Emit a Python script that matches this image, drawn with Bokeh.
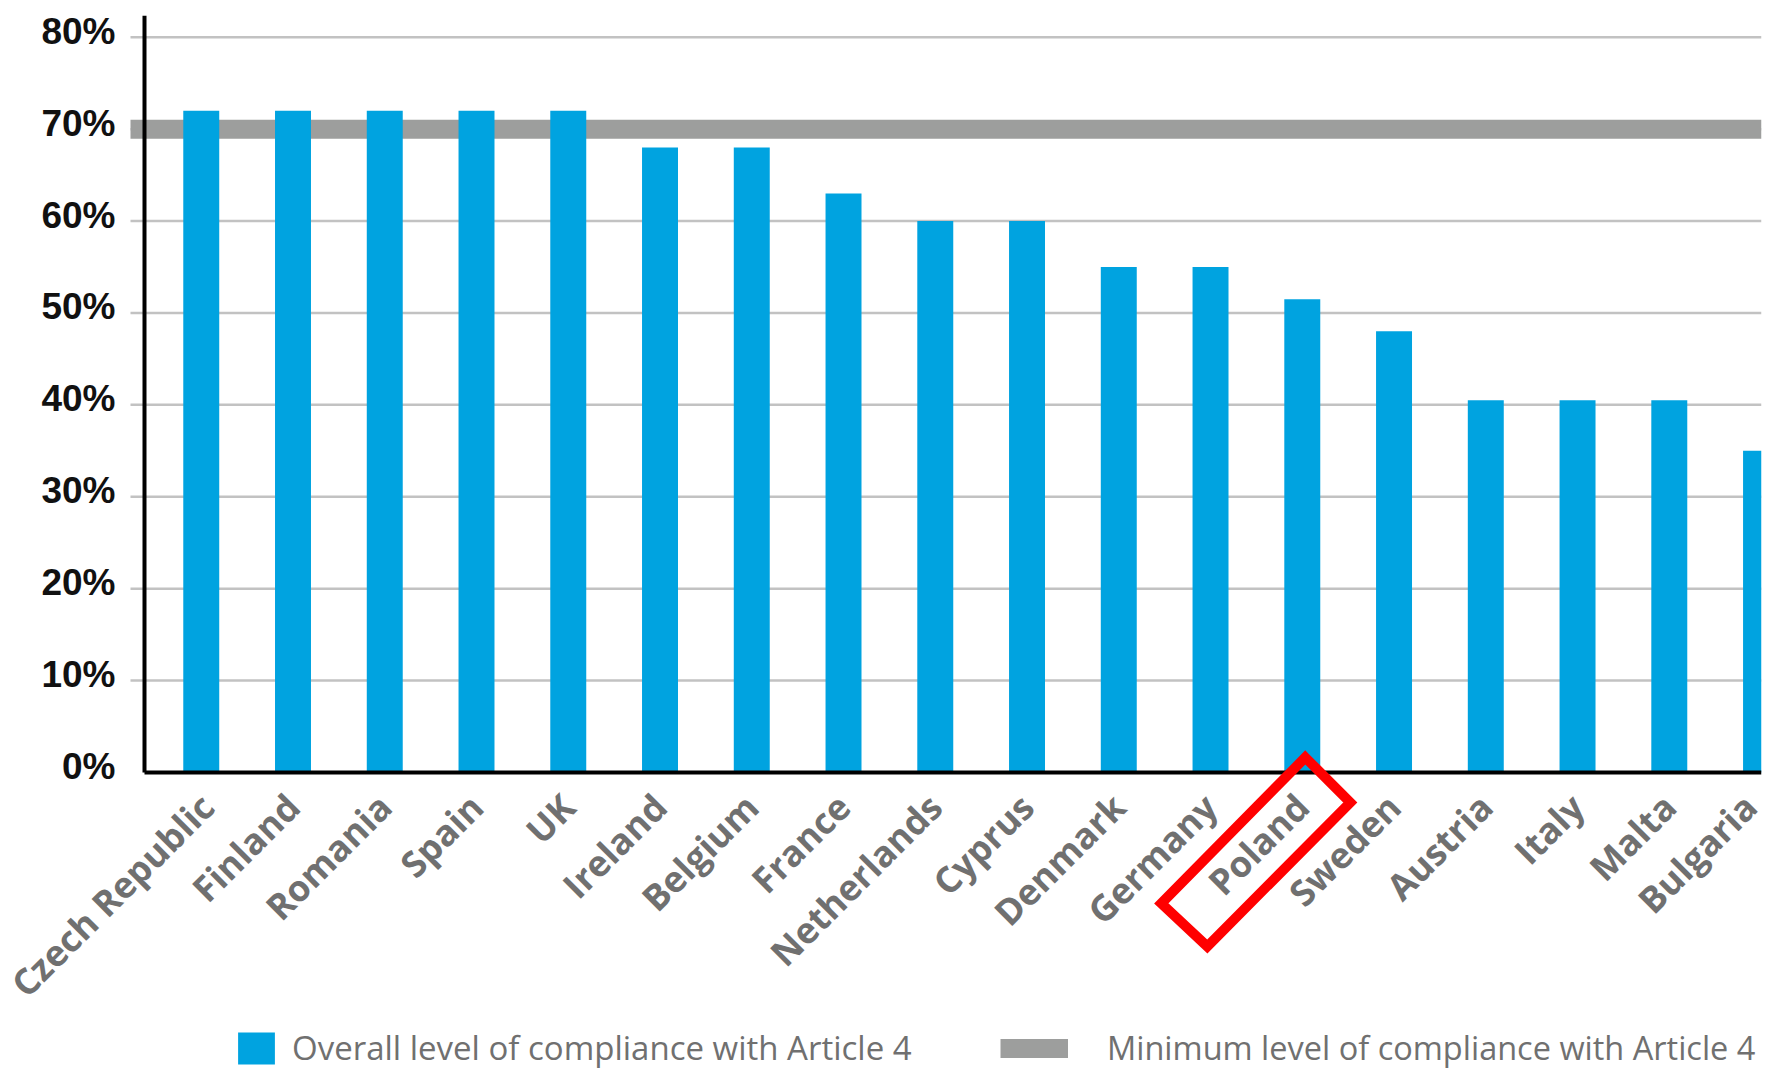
import math

from bokeh.embed import file_html
from bokeh.models import (FixedTicker, Legend, LegendItem, LinearAxis,
                          PolyAnnotation, PrintfTickFormatter, Range1d)
from bokeh.plotting import figure
from bokeh.resources import INLINE

# --- data -------------------------------------------------------------
countries = ["Czech Republic", "Finland", "Romania", "Spain", "UK", "Ireland",
             "Belgium", "France", "Netherlands", "Cyprus", "Denmark", "Germany",
             "Poland", "Sweden", "Austria", "Italy", "Malta", "Bulgaria"]
compliance = [72, 72, 72, 72, 72, 68, 68, 63, 60, 60, 55, 55, 51.5, 48,
              40.5, 40.5, 40.5, 35]
minimum_level = 70
y_ticks = [0, 10, 20, 30, 40, 50, 60, 70, 80]
highlight = "Poland"

overall_label = "Overall level of compliance with Article 4"
minimum_label = "Minimum level of compliance with Article 4"

# --- geometry ----------------------------------------------------------
# The frame covers the whole canvas; both axes are pinned to fixed
# locations so that labels, legend and highlight all live inside it.
FRAME_W, FRAME_H = 1761, 1058
x_range = Range1d(-2.188, 17.005)
y_range = Range1d(-32.76, 82.37)

px_x = FRAME_W / (x_range.end - x_range.start)
px_y = FRAME_H / (y_range.end - y_range.start)

axis_x = x_range.start + 144 / px_x   # vertical axis line
grid_x0 = x_range.start + 130 / px_x  # grid lines start a little left of it

BLUE = "#00a3e0"
GREY = "#9d9e9d"

p = figure(frame_width=FRAME_W, frame_height=FRAME_H,
           x_range=x_range, y_range=y_range,
           y_axis_location=None,
           min_border_left=0, min_border_right=6,
           min_border_top=15, min_border_bottom=0,
           output_backend="svg", toolbar_location=None,
           outline_line_color=None, background_fill_color="white",
           border_fill_color="white")

xs = list(range(len(countries)))

# horizontal grid lines
p.xgrid.visible = False
p.ygrid.visible = False
grid_levels = y_ticks[1:]
p.segment(x0=[grid_x0] * len(grid_levels), y0=grid_levels,
          x1=[x_range.end] * len(grid_levels), y1=grid_levels,
          line_color="#c2c2c2", line_width=2.5)

# minimum compliance level band
r_min = p.line(x=[grid_x0, x_range.end], y=[minimum_level, minimum_level],
               line_color=GREY, line_width=19, line_cap="butt")

# compliance bars
r_bars = p.vbar(x=xs, top=compliance, width=0.392, bottom=0,
                fill_color=BLUE, line_color=None)

# axis lines
p.segment(x0=[axis_x], y0=[0], x1=[axis_x], y1=[y_range.end],
          line_color="black", line_width=4)
p.segment(x0=[axis_x], y0=[0], x1=[x_range.end], y1=[0],
          line_color="black", line_width=4)

# percentage axis (labels sit a touch above their grid lines)
label_shift = 6 / px_y
p.extra_y_ranges = {"labels": Range1d(y_range.start - label_shift,
                                      y_range.end - label_shift)}
yaxis = LinearAxis(y_range_name="labels",
                   fixed_location=axis_x,
                   ticker=FixedTicker(ticks=y_ticks),
                   formatter=PrintfTickFormatter(format="%d%%"),
                   axis_line_color=None,
                   major_tick_line_color=None,
                   minor_tick_line_color=None,
                   major_label_standoff=23,
                   major_label_text_font="Liberation Sans",
                   major_label_text_font_style="bold",
                   major_label_text_font_size="37px",
                   major_label_text_color="#111111")
p.add_layout(yaxis, "left")

# category axis drawn along the zero line
xaxis = p.xaxis[0]
xaxis.fixed_location = 0
xaxis.ticker = FixedTicker(ticks=xs)
xaxis.major_label_overrides = {i: name for i, name in zip(xs, countries)}
xaxis.major_label_orientation = math.pi / 4
xaxis.axis_line_color = None
xaxis.major_tick_line_color = None
xaxis.minor_tick_line_color = None
xaxis.major_label_standoff = 22
xaxis.major_label_text_font = "Open Sans"
xaxis.major_label_text_font_style = "bold"
xaxis.major_label_text_font_size = "36px"
xaxis.major_label_text_color = "#707070"

# red frame around the highlighted country's label (offsets in pixels)
hi = countries.index(highlight)
box_px = [(3, -15), (48, 30), (-95, 174), (-141, 131)]
p.add_layout(PolyAnnotation(
    xs=[hi + dx / px_x for dx, dy in box_px],
    ys=[-dy / px_y for dx, dy in box_px],
    fill_alpha=0, line_color="#ff0000", line_alpha=1.0,
    line_width=10, line_join="miter"))

# legends along the bottom
common = dict(padding=0, margin=0, border_line_color=None,
              background_fill_alpha=0, label_text_font="Open Sans",
              label_text_color="#707070", glyph_height=40)
p.add_layout(Legend(items=[LegendItem(label=overall_label, renderers=[r_bars])],
                    location=(233, 3), glyph_width=46, label_standoff=13,
                    label_text_font_size="33px", **common))
p.add_layout(Legend(items=[LegendItem(label=minimum_label, renderers=[r_min])],
                    location=(1000, 3), glyph_width=68, label_standoff=39,
                    label_text_font_size="32.5px", **common))

open("out.html", "w").write(file_html(p, INLINE))
